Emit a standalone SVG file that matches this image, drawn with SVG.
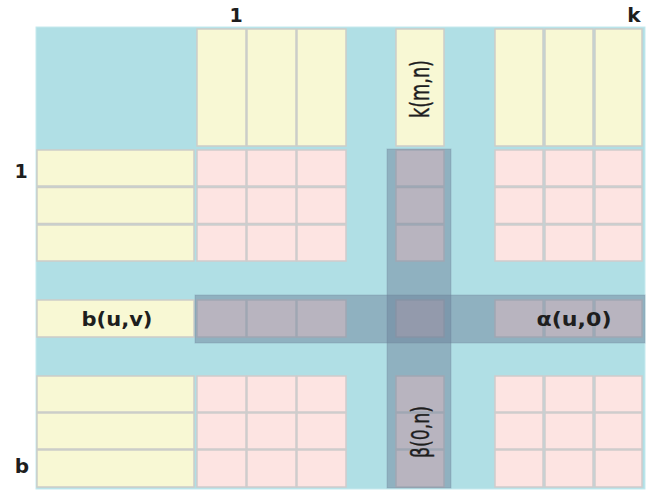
<svg xmlns="http://www.w3.org/2000/svg" width="648" height="491" viewBox="0 0 648 491">
<defs>
<style>
.bg{fill:#b0dfe5;stroke:#c6e9ee;stroke-width:1}
.y{fill:#f8f8d4;stroke:#cdcdc8;stroke-width:1.5}
.p{fill:#fde4e2;stroke:#cfcbcb;stroke-width:1.5}
.band{fill:rgb(106,125,150);fill-opacity:0.47;stroke:#6a7d96;stroke-opacity:0.3;stroke-width:1}
.lbl{font-family:"DejaVu Sans","Verdana",sans-serif;font-weight:bold;fill:#1e1e1e}
.vl{font-family:"DejaVu Sans","Verdana",sans-serif;fill:#1e1e1e;stroke:#1e1e1e;stroke-width:0.4}
</style>
</defs>
<rect class="bg" x="36" y="27" width="609" height="462"/>
<g id="col-headers">
<rect class="y" x="197" y="29" width="49" height="117"/>
<rect class="y" x="247" y="29" width="49" height="117"/>
<rect class="y" x="297" y="29" width="49" height="117"/>
<rect class="y" x="396" y="29" width="48" height="117"/>
<rect class="y" x="495" y="29" width="48" height="117"/>
<rect class="y" x="545" y="29" width="48" height="117"/>
<rect class="y" x="595" y="29" width="47" height="117"/>
</g>
<g id="row-headers">
<rect class="y" x="37" y="150" width="157" height="36"/>
<rect class="y" x="37" y="187.5" width="157" height="36"/>
<rect class="y" x="37" y="225" width="157" height="36"/>
<rect class="y" x="37" y="300" width="157" height="37"/>
<rect class="y" x="37" y="376" width="157" height="36"/>
<rect class="y" x="37" y="413" width="157" height="36"/>
<rect class="y" x="37" y="450" width="157" height="37"/>
</g>
<g id="cells">
<g id="r1">
<rect class="p" x="197" y="150" width="49" height="36"/><rect class="p" x="247" y="150" width="49" height="36"/><rect class="p" x="297" y="150" width="49" height="36"/><rect class="p" x="396" y="150" width="48" height="36"/><rect class="p" x="495" y="150" width="48" height="36"/><rect class="p" x="545" y="150" width="48" height="36"/><rect class="p" x="595" y="150" width="47" height="36"/>
</g>
<g id="r2">
<rect class="p" x="197" y="187.5" width="49" height="36"/><rect class="p" x="247" y="187.5" width="49" height="36"/><rect class="p" x="297" y="187.5" width="49" height="36"/><rect class="p" x="396" y="187.5" width="48" height="36"/><rect class="p" x="495" y="187.5" width="48" height="36"/><rect class="p" x="545" y="187.5" width="48" height="36"/><rect class="p" x="595" y="187.5" width="47" height="36"/>
</g>
<g id="r3">
<rect class="p" x="197" y="225" width="49" height="36"/><rect class="p" x="247" y="225" width="49" height="36"/><rect class="p" x="297" y="225" width="49" height="36"/><rect class="p" x="396" y="225" width="48" height="36"/><rect class="p" x="495" y="225" width="48" height="36"/><rect class="p" x="545" y="225" width="48" height="36"/><rect class="p" x="595" y="225" width="47" height="36"/>
</g>
<g id="ruv">
<rect class="p" x="197" y="300" width="49" height="37"/><rect class="p" x="247" y="300" width="49" height="37"/><rect class="p" x="297" y="300" width="49" height="37"/><rect class="p" x="396" y="300" width="48" height="37"/><rect class="p" x="495" y="300" width="48" height="37"/><rect class="p" x="545" y="300" width="48" height="37"/><rect class="p" x="595" y="300" width="47" height="37"/>
</g>
<g id="r4">
<rect class="p" x="197" y="376" width="49" height="36"/><rect class="p" x="247" y="376" width="49" height="36"/><rect class="p" x="297" y="376" width="49" height="36"/><rect class="p" x="396" y="376" width="48" height="36"/><rect class="p" x="495" y="376" width="48" height="36"/><rect class="p" x="545" y="376" width="48" height="36"/><rect class="p" x="595" y="376" width="47" height="36"/>
</g>
<g id="r5">
<rect class="p" x="197" y="413" width="49" height="36"/><rect class="p" x="247" y="413" width="49" height="36"/><rect class="p" x="297" y="413" width="49" height="36"/><rect class="p" x="396" y="413" width="48" height="36"/><rect class="p" x="495" y="413" width="48" height="36"/><rect class="p" x="545" y="413" width="48" height="36"/><rect class="p" x="595" y="413" width="47" height="36"/>
</g>
<g id="r6">
<rect class="p" x="197" y="450" width="49" height="37"/><rect class="p" x="247" y="450" width="49" height="37"/><rect class="p" x="297" y="450" width="49" height="37"/><rect class="p" x="396" y="450" width="48" height="37"/><rect class="p" x="495" y="450" width="48" height="37"/><rect class="p" x="545" y="450" width="48" height="37"/><rect class="p" x="595" y="450" width="47" height="37"/>
</g>
</g>
<g id="bands">
<rect class="band" x="387" y="149" width="64" height="339"/>
<rect class="band" x="195" y="295" width="450" height="48"/>
</g>
<g id="labels">
<text class="lbl" x="236" y="22" font-size="19" text-anchor="middle">1</text>
<text class="lbl" x="634" y="22" font-size="20" text-anchor="middle">k</text>
<text class="lbl" x="21" y="178" font-size="19" text-anchor="middle">1</text>
<text class="lbl" x="22" y="473" font-size="20" text-anchor="middle">b</text>
<text class="lbl" x="117" y="326" font-size="20" text-anchor="middle" textLength="71" lengthAdjust="spacingAndGlyphs">b(u,v)</text>
<text class="lbl" x="574" y="326" font-size="20" text-anchor="middle" textLength="75" lengthAdjust="spacingAndGlyphs">α(u,0)</text>
<text class="vl" transform="translate(429,89) rotate(-90)" font-size="26" text-anchor="middle" textLength="58" lengthAdjust="spacingAndGlyphs">k(m,n)</text>
<text class="vl" transform="translate(429,432) rotate(-90)" font-size="24" text-anchor="middle" textLength="52" lengthAdjust="spacingAndGlyphs">β(0,n)</text>
</g>
</svg>
